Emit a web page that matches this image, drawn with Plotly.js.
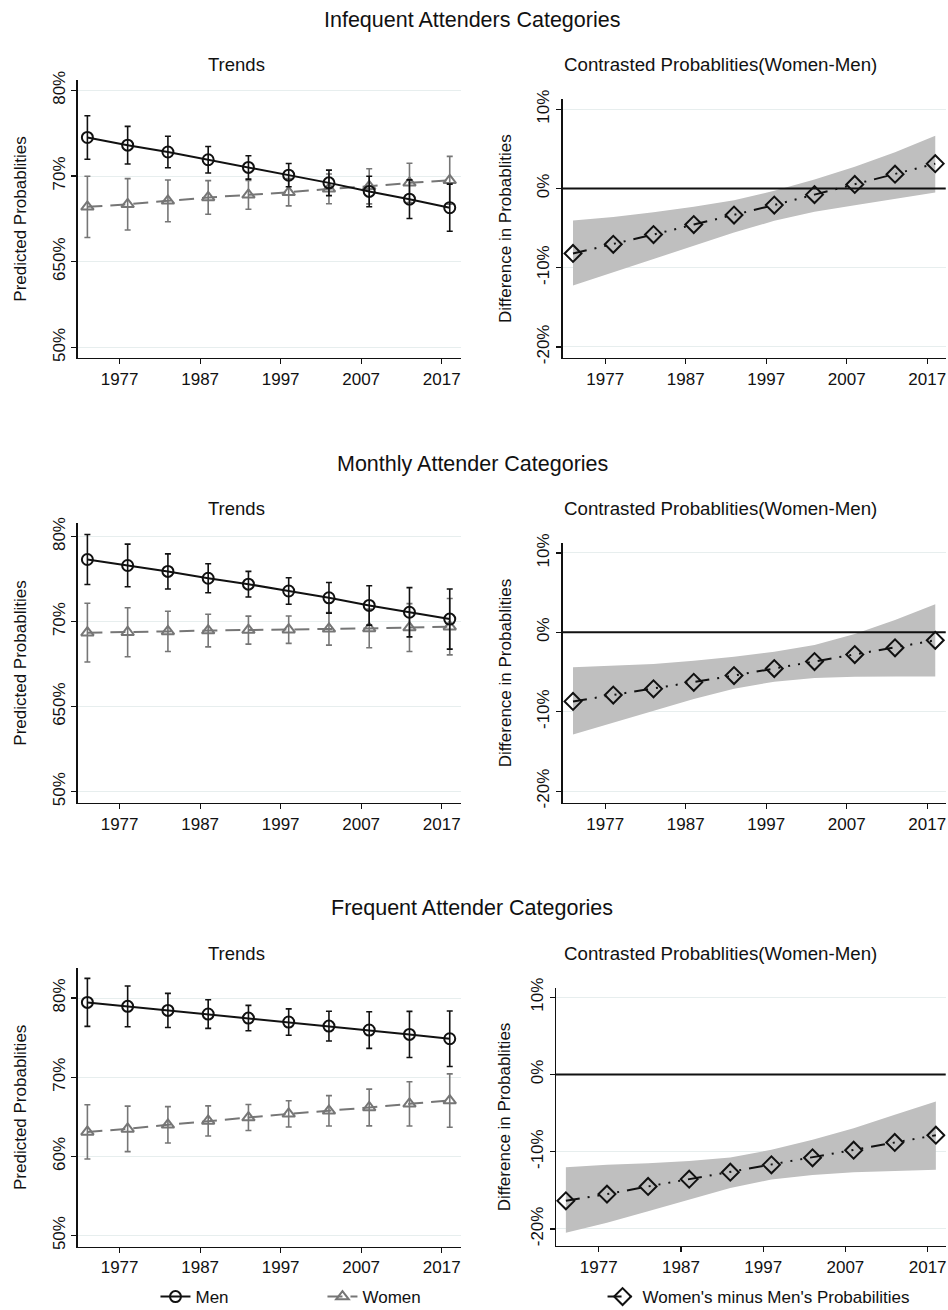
<!DOCTYPE html>
<html>
<head>
<meta charset="utf-8">
<script src="https://cdn.plot.ly/plotly-3.0.1.min.js"></script>
<style>
  html, body { margin: 0; padding: 0; background: #fff; }
  #chart { width: 948px; height: 1310px; }
</style>
</head>
<body>
<div id="chart"></div>
<script>
// Survey years shown on every panel
const years = [1973, 1978, 1983, 1988, 1993, 1998, 2003, 2008, 2013, 2018];
const yearTicks = [1977, 1987, 1997, 2007, 2017];

// Infrequent attenders: predicted probabilities (%) with 95% CI half-widths
const infrequentMen = [74.5, 73.6, 72.8, 71.9, 71.0, 70.1, 69.2, 68.2, 67.3, 66.3];
const infrequentMenCI = [2.54, 2.19, 1.84, 1.55, 1.36, 1.36, 1.49, 1.78, 2.25, 2.75];
const infrequentWomen = [66.4, 66.7, 67.1, 67.5, 67.8, 68.1, 68.5, 68.8, 69.2, 69.5];
const infrequentWomenCI = [3.57, 3.0, 2.44, 1.96, 1.67, 1.59, 1.74, 2.05, 2.29, 2.79];
// Infrequent attenders: women minus men contrast (%) with CI bounds
const infrequentDiff = [-8.2, -7.05, -5.82, -4.56, -3.36, -2.1, -0.78, 0.5, 1.8, 3.13];
const infrequentDiffLow = [-12.24, -10.55, -8.86, -7.17, -5.57, -4.09, -2.95, -2.11, -1.35, -0.5];
const infrequentDiffHigh = [-4.05, -3.59, -3.0, -2.32, -1.48, -0.3, 1.14, 2.74, 4.56, 6.65];

// Monthly attenders
const monthlyMen = [77.3, 76.6, 75.9, 75.1, 74.4, 73.6, 72.8, 71.9, 71.1, 70.3];
const monthlyMenCI = [2.94, 2.51, 2.06, 1.71, 1.51, 1.55, 1.80, 2.31, 2.9, 3.53];
const monthlyWomen = [68.7, 68.75, 68.85, 68.95, 69.0, 69.05, 69.15, 69.2, 69.3, 69.4];
const monthlyWomenCI = [3.45, 2.88, 2.37, 1.92, 1.65, 1.61, 1.92, 2.27, 2.82, 3.31];
const monthlyDiff = [-8.7, -7.9, -7.12, -6.3, -5.44, -4.56, -3.68, -2.8, -1.95, -1.0];
const monthlyDiffLow = [-12.86, -11.39, -9.87, -8.40, -7.10, -6.22, -5.76, -5.59, -5.55, -5.55];
const monthlyDiffHigh = [-4.41, -4.24, -3.99, -3.57, -3.07, -2.44, -1.60, -0.21, 1.55, 3.53];

// Frequent attenders
const frequentMen = [79.45, 78.95, 78.44, 77.98, 77.47, 76.97, 76.46, 75.96, 75.41, 74.86];
const frequentMenCI = [3.03, 2.57, 2.15, 1.81, 1.60, 1.66, 1.88, 2.32, 2.91, 3.50];
const frequentWomen = [63.1, 63.48, 63.99, 64.49, 64.91, 65.38, 65.76, 66.18, 66.64, 67.06];
const frequentWomenCI = [3.43, 2.87, 2.30, 1.90, 1.64, 1.66, 1.92, 2.32, 2.80, 3.37];
const frequentDiff = [-16.36, -15.49, -14.50, -13.55, -12.65, -11.70, -10.79, -9.80, -8.80, -7.86];
const frequentDiffLow = [-20.5, -19.2, -17.7, -16.2, -14.7, -13.6, -13.0, -12.65, -12.5, -12.34];
const frequentDiffHigh = [-12.0, -11.7, -11.5, -11.2, -10.75, -9.75, -8.46, -6.95, -5.22, -3.5];

// Tick labels
const probTickVals = [50, 60, 70, 80];
const probTickTextUpper = ['50%', '650%', '70%', '80%'];
const probTickTextLower = ['50%', '60%', '70%', '80%'];
const diffTickVals = [-20, -10, 0, 10];
const diffTickText = ['-20%', '-10%', '0%', '10%'];

const panelTitles = ['Infequent Attenders Categories', 'Monthly Attender Categories', 'Frequent Attender Categories'];

const FONT = 'Liberation Sans, Arial, Helvetica, sans-serif';
const MEN_COLOR = '#111111';
const WOMEN_COLOR = '#767676';
const BAND_COLOR = 'rgb(191,191,191)';
const GRID = 'rgb(231,238,238)';

const rows = [
  { men: infrequentMen, menCI: infrequentMenCI, women: infrequentWomen, womenCI: infrequentWomenCI,
    diff: infrequentDiff, lo: infrequentDiffLow, hi: infrequentDiffHigh, tickText: probTickTextUpper },
  { men: monthlyMen, menCI: monthlyMenCI, women: monthlyWomen, womenCI: monthlyWomenCI,
    diff: monthlyDiff, lo: monthlyDiffLow, hi: monthlyDiffHigh, tickText: probTickTextUpper },
  { men: frequentMen, menCI: frequentMenCI, women: frequentWomen, womenCI: frequentWomenCI,
    diff: frequentDiff, lo: frequentDiffLow, hi: frequentDiffHigh, tickText: probTickTextLower }
];

// Panel geometry (paper fractions) and axis ranges for each row
const geom = [
  { left: [0.0820, 0.4863], right: [0.5934, 0.9976], ly: [0.7267, 0.9389], ry: [0.7267, 0.9242],
    lrange: [48.76, 81.2], rrange: [-21.4, 11.25], rxrange: [1971.7, 2019.3], titleY: 0.9847, subY: 0.9511, rStandoff: 18 },
  { left: [0.0820, 0.4863], right: [0.5934, 0.9976], ly: [0.3870, 0.6008], ry: [0.3870, 0.5855],
    lrange: [48.67, 81.6], rrange: [-21.5, 11.25], rxrange: [1971.7, 2019.3], titleY: 0.6458, subY: 0.6115, rStandoff: 18 },
  { left: [0.0820, 0.4863], right: [0.5865, 0.9976], ly: [0.0483, 0.2611], ry: [0.0489, 0.2458],
    lrange: [48.6, 83.8], rrange: [-22.2, 11.2], rxrange: [1971.8, 2019.2], titleY: 0.3069, subY: 0.2725, rStandoff: 13 }
];

const traces = [];
const layout = {
  width: 948, height: 1310,
  margin: { l: 0, r: 0, t: 0, b: 0, autoexpand: false },
  paper_bgcolor: '#fff', plot_bgcolor: '#fff',
  font: { family: FONT, size: 17, color: '#111' },
  showlegend: true,
  legend: {
    orientation: 'h', x: 0.164, xanchor: 'left', y: 0.0099, yanchor: 'middle',
    font: { family: FONT, size: 17, color: '#111' }, bgcolor: 'rgba(0,0,0,0)',
    entrywidth: 122, traceorder: 'normal'
  },
  legend2: {
    orientation: 'h', x: 0.6356, xanchor: 'left', y: 0.0099, yanchor: 'middle',
    font: { family: FONT, size: 17, color: '#111' }, bgcolor: 'rgba(0,0,0,0)'
  },
  annotations: [],
  shapes: []
};

function axisBase() {
  return {
    showline: true, linecolor: '#111', linewidth: 1.3, mirror: false,
    ticks: 'outside', ticklen: 5, tickwidth: 1.2, tickcolor: '#111',
    tickfont: { family: FONT, size: 17, color: '#111' },
    zeroline: false, fixedrange: true, automargin: false
  };
}

rows.forEach(function (r, i) {
  const g = geom[i];
  const nL = 2 * i + 1, nR = 2 * i + 2;
  const xL = 'x' + nL, yL = 'y' + nL, xR = 'x' + nR, yR = 'y' + nR;
  const first = i === 0;

  // Trends panel: women then men
  traces.push({
    type: 'scatter', mode: 'lines+markers', name: 'Women', x: years, y: r.women,
    xaxis: xL, yaxis: yL, showlegend: first, legend: 'legend',
    line: { color: WOMEN_COLOR, width: 2, dash: '15px,8px' },
    marker: { symbol: 'triangle-up-open', size: 11, color: WOMEN_COLOR, line: { width: 2, color: WOMEN_COLOR } },
    error_y: { type: 'data', array: r.womenCI, visible: true, color: WOMEN_COLOR, thickness: 1.6, width: 3 }
  });
  traces.push({
    type: 'scatter', mode: 'lines+markers', name: 'Men', x: years, y: r.men,
    xaxis: xL, yaxis: yL, showlegend: first, legend: 'legend',
    line: { color: MEN_COLOR, width: 2 },
    marker: { symbol: 'circle-open', size: 11, color: MEN_COLOR, line: { width: 2, color: MEN_COLOR } },
    error_y: { type: 'data', array: r.menCI, visible: true, color: MEN_COLOR, thickness: 1.6, width: 3 }
  });

  // Contrast panel: confidence band then point estimates
  traces.push({
    type: 'scatter', mode: 'lines', x: years, y: r.lo, xaxis: xR, yaxis: yR,
    line: { width: 0, color: BAND_COLOR }, showlegend: false, hoverinfo: 'skip'
  });
  traces.push({
    type: 'scatter', mode: 'lines', x: years, y: r.hi, xaxis: xR, yaxis: yR,
    line: { width: 0, color: BAND_COLOR }, fill: 'tonexty', fillcolor: BAND_COLOR,
    showlegend: false, hoverinfo: 'skip'
  });
  traces.push({
    type: 'scatter', mode: 'lines+markers', name: "Women's minus Men's Probabilities",
    x: years, y: r.diff, xaxis: xR, yaxis: yR, showlegend: first, legend: 'legend2',
    line: { color: MEN_COLOR, width: 2, dash: '14px,8px,2px,8px,2px,8px,2px,8px,2px,8px' },
    marker: { symbol: 'diamond-open', size: 13, color: MEN_COLOR, line: { width: 2, color: MEN_COLOR } }
  });

  layout['xaxis' + nL] = Object.assign(axisBase(), {
    domain: g.left, anchor: yL, range: [1971.8, 2019.4],
    tickvals: yearTicks, ticktext: yearTicks.map(String), showgrid: false
  });
  layout['yaxis' + nL] = Object.assign(axisBase(), {
    domain: g.ly, anchor: xL, range: g.lrange,
    tickvals: probTickVals, ticktext: r.tickText, tickangle: -90,
    showgrid: true, gridcolor: GRID, gridwidth: 1,
    title: { text: 'Predicted Probablities', font: { family: FONT, size: 17, color: '#111' }, standoff: 18 }
  });
  layout['xaxis' + nR] = Object.assign(axisBase(), {
    domain: g.right, anchor: yR, range: g.rxrange,
    tickvals: yearTicks, ticktext: yearTicks.map(String), showgrid: false
  });
  layout['yaxis' + nR] = Object.assign(axisBase(), {
    domain: g.ry, anchor: xR, range: g.rrange,
    tickvals: diffTickVals, ticktext: diffTickText, tickangle: -90,
    showgrid: true, gridcolor: GRID, gridwidth: 1,
    title: { text: 'Difference in Probablities', font: { family: FONT, size: 17, color: '#111' }, standoff: g.rStandoff }
  });

  // Zero reference line on the contrast panel
  layout.shapes.push({
    type: 'line', xref: xR + ' domain', x0: 0, x1: 1, yref: yR, y0: 0, y1: 0,
    line: { color: '#111', width: 2 }, layer: 'above'
  });

  // Row title and panel titles
  layout.annotations.push({
    text: panelTitles[i], xref: 'paper', yref: 'paper', x: 0.498, y: g.titleY,
    xanchor: 'center', yanchor: 'middle', showarrow: false,
    font: { family: FONT, size: 21.5, color: '#111' }
  });
  layout.annotations.push({
    text: 'Trends', xref: 'paper', yref: 'paper', x: 0.249, y: g.subY,
    xanchor: 'center', yanchor: 'middle', showarrow: false,
    font: { family: FONT, size: 18.5, color: '#111' }
  });
  layout.annotations.push({
    text: 'Contrasted Probablities(Women-Men)', xref: 'paper', yref: 'paper', x: 0.7595, y: g.subY,
    xanchor: 'center', yanchor: 'middle', showarrow: false,
    font: { family: FONT, size: 18.7, color: '#111' }
  });
});

// Legend order: Men before Women
traces.filter(t => t.name === 'Men' && t.showlegend).forEach(t => { t.legendrank = 1; });
traces.filter(t => t.name === 'Women' && t.showlegend).forEach(t => { t.legendrank = 2; });

Plotly.newPlot('chart', traces, layout, { displayModeBar: false, staticPlot: true });
</script>
</body>
</html>
